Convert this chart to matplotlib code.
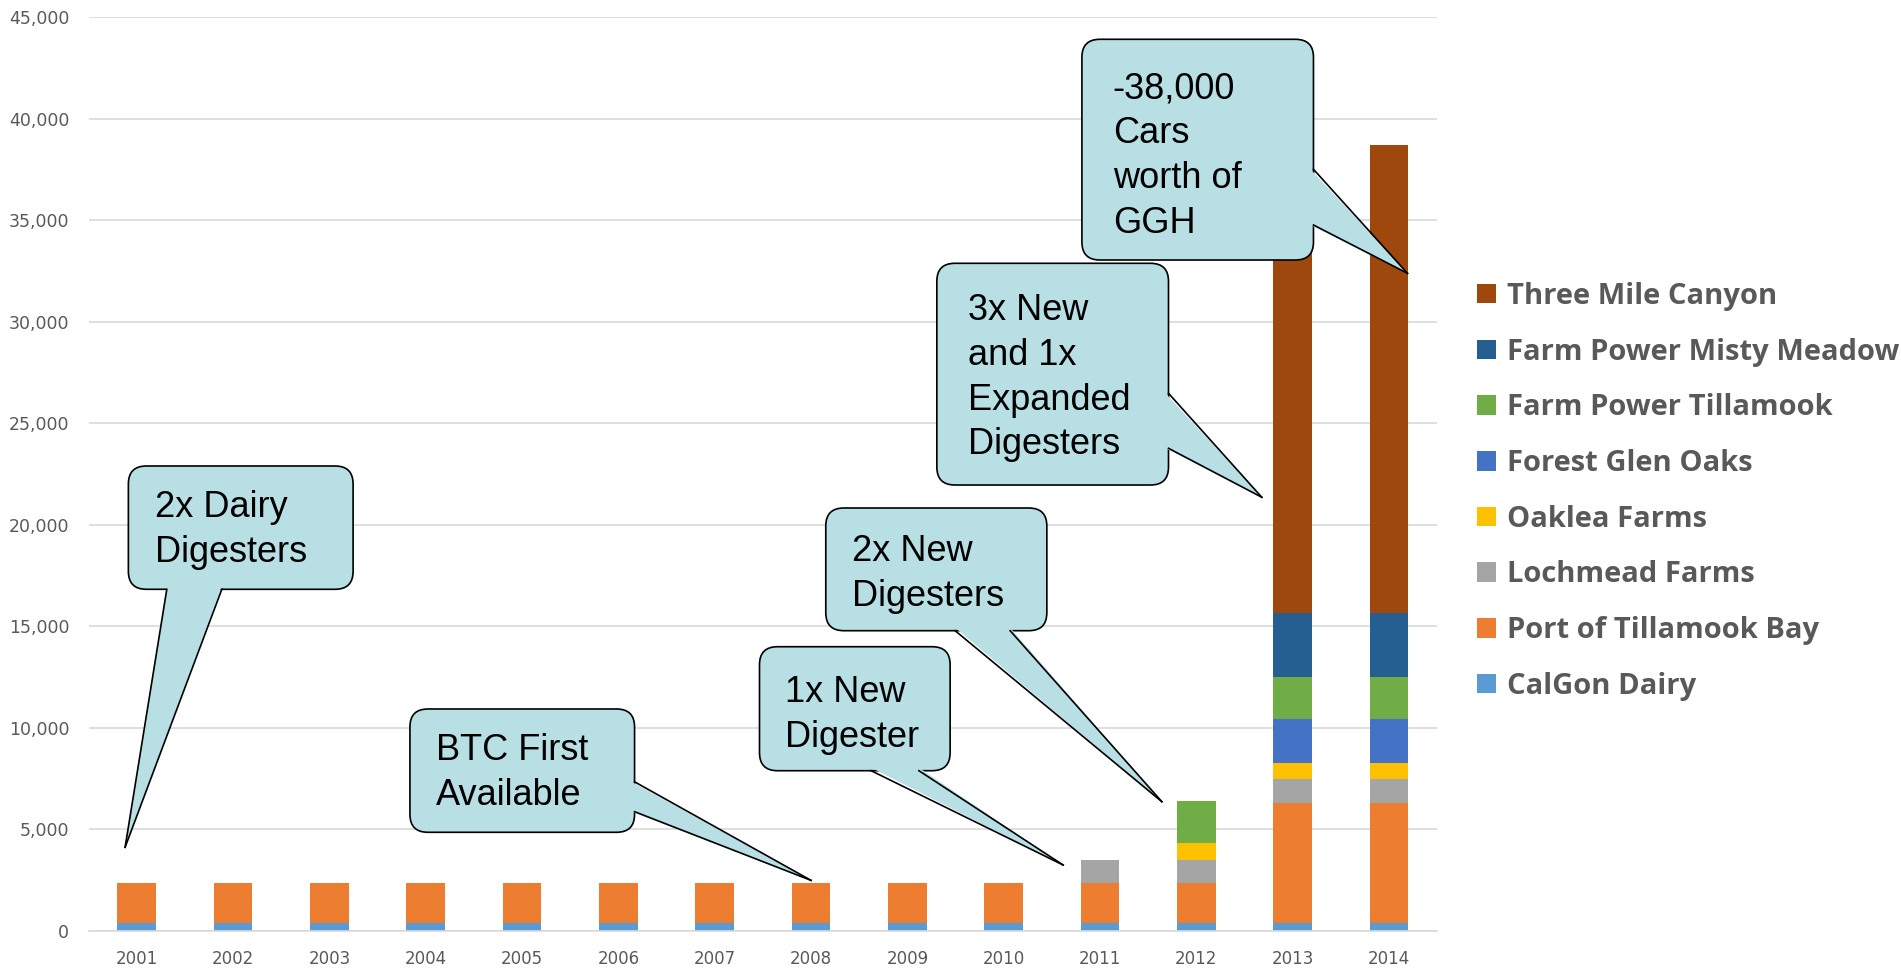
import matplotlib
matplotlib.use('Agg')
import matplotlib.pyplot as plt
from matplotlib.patches import FancyBboxPatch, Polygon, Patch
from matplotlib.transforms import IdentityTransform
import numpy as np

years = ['2001', '2002', '2003', '2004', '2005', '2006', '2007',
         '2008', '2009', '2010', '2011', '2012', '2013', '2014']

# stacked series, bottom to top
calgon      = [360, 360, 360, 360, 360, 360, 360, 360, 360, 360, 360, 360, 360, 360]
port_tb     = [1980, 1980, 1980, 1980, 1980, 1980, 1980, 1980, 1980, 1980, 1980, 1980, 5950, 5950]
lochmead    = [0, 0, 0, 0, 0, 0, 0, 0, 0, 0, 1160, 1160, 1160, 1160]
oaklea      = [0, 0, 0, 0, 0, 0, 0, 0, 0, 0, 0, 810, 810, 810]
forest_glen = [0, 0, 0, 0, 0, 0, 0, 0, 0, 0, 0, 0, 2170, 2170]
fp_tilla    = [0, 0, 0, 0, 0, 0, 0, 0, 0, 0, 0, 2070, 2070, 2070]
fp_misty    = [0, 0, 0, 0, 0, 0, 0, 0, 0, 0, 0, 0, 3155, 3155]
three_mile  = [0, 0, 0, 0, 0, 0, 0, 0, 0, 0, 0, 0, 23030, 23030]

series = [
    ('CalGon Dairy', calgon, '#5B9BD5'),
    ('Port of Tillamook Bay', port_tb, '#ED7D31'),
    ('Lochmead Farms', lochmead, '#A5A5A5'),
    ('Oaklea Farms', oaklea, '#FFC000'),
    ('Forest Glen Oaks', forest_glen, '#4472C4'),
    ('Farm Power Tillamook', fp_tilla, '#70AD47'),
    ('Farm Power Misty Meadow', fp_misty, '#255E91'),
    ('Three Mile Canyon', three_mile, '#9E480E'),
]

# callouts: box (x0, x1, y0, y1) in data units, tail base along one side, tip,
# first-line baseline anchor
callouts = [
    dict(text='2x Dairy\nDigesters', box=(-0.087, 2.246, 16823, 22899),
         side='bottom', base=(0.312, 0.883), tip=(-0.121, 4110), at=(0.190, 20400)),
    dict(text='BTC First\nAvailable', box=(2.836, 5.168, 4849, 10925),
         side='right', base=(7337, 5864), tip=(7.0, 2480), at=(3.105, 8411)),
    dict(text='1x New\nDigester', box=(6.465, 8.444, 7884, 13994),
         side='bottom', base=(7.624, 8.120), tip=(9.617, 3237), at=(6.729, 11284)),
    dict(text='2x New\nDigesters', box=(7.153, 9.448, 14783, 20829),
         side='bottom', base=(8.496, 9.067), tip=(10.642, 6357), at=(7.430, 18203)),
    dict(text='3x New\nand 1x\nExpanded\nDigesters', box=(8.306, 10.711, 21962, 32887),
         side='right', base=(26481, 23771), tip=(11.680, 21356), at=(8.628, 30093)),
    dict(text='-38,000\nCars\nworth of\nGGH', box=(9.812, 12.216, 33049, 43925),
         side='right', base=(37519, 34774), tip=(13.192, 32394), at=(10.133, 41017)),
]

fig = plt.figure(figsize=(19.01, 9.71), dpi=100)
ax = fig.add_axes([0.0466, 0.0415, 0.7094, 0.9405])

x = np.arange(len(years))
bottom = np.zeros(len(years))
handles = []
for name, vals, col in series:
    ax.bar(x, vals, width=0.4, bottom=bottom, color=col, zorder=2)
    bottom += np.array(vals)
    handles.append(Patch(facecolor=col, label=name))

ax.set_xlim(-0.5, len(years) - 0.5)
ax.set_ylim(0, 45000)
ax.set_yticks(np.arange(0, 45001, 5000))
ax.set_yticklabels([f'{v:,}' for v in range(0, 45001, 5000)])
ax.set_xticks(x)
ax.set_xticklabels(years)
ax.yaxis.grid(True, color='#d9d9d9', lw=1.2, zorder=0)
ax.set_axisbelow(True)
for s in ['top', 'right', 'left']:
    ax.spines[s].set_visible(False)
ax.spines['bottom'].set_color('#d9d9d9')
ax.spines['bottom'].set_linewidth(1.2)
ax.tick_params(axis='y', length=0, pad=14, labelsize=12.5, labelcolor='#595959')
ax.tick_params(axis='x', length=0, pad=14, labelsize=12, labelcolor='#595959')

leg = ax.legend(handles[::-1], [h.get_label() for h in handles[::-1]],
                loc='upper left', bbox_to_anchor=(0.7772, 0.7096),
                bbox_transform=fig.transFigure, frameon=False,
                prop={'family': 'Open Sans', 'weight': 'bold', 'size': 21},
                labelcolor='#595959', handlelength=0.65, handleheight=0.65,
                handletextpad=0.35, labelspacing=0.915, borderpad=0, borderaxespad=0)

# speech-bubble callouts, built in pixel space
fill = '#b8dfe3'
line_step = 44.8
to_px = ax.transData.transform
z = 10
for c in callouts:
    bx0, bx1, by0, by1 = c['box']
    (x0, y0), (x1, y1) = to_px([(bx0, by0), (bx1, by1)])
    tip = to_px([c['tip']])[0]
    if c['side'] == 'bottom':
        b1 = to_px([(c['base'][0], by0)])[0]
        b2 = to_px([(c['base'][1], by0)])[0]
        inset = np.array([0, 3])
    else:
        b1 = to_px([(bx1, c['base'][0])])[0]
        b2 = to_px([(bx1, c['base'][1])])[0]
        inset = np.array([-3, 0])
    box = FancyBboxPatch((x0, y0), x1 - x0, y1 - y0,
                         boxstyle='round,pad=0,rounding_size=18',
                         transform=IdentityTransform(), fc=fill, ec='black',
                         lw=1.2, zorder=z)
    fig.add_artist(box)
    tail = Polygon([b1 + inset, tip, b2 + inset], closed=True,
                   transform=IdentityTransform(), fc=fill, ec='none', zorder=z + 1)
    fig.add_artist(tail)
    for b in (b1, b2):
        fig.add_artist(plt.Line2D([b[0], tip[0]], [b[1], tip[1]], color='black',
                                  lw=1.2, transform=IdentityTransform(), zorder=z + 2,
                                  solid_joinstyle='miter'))
    tx, ty = to_px([c['at']])[0]
    for i, line in enumerate(c['text'].split('\n')):
        fig.text(tx, ty - i * line_step, line, transform=IdentityTransform(),
                 family='Liberation Sans', fontsize=26, color='black',
                 ha='left', va='baseline', zorder=z + 3)
    z += 5

fig.savefig('out.png', dpi=100)
plt.close(fig)
